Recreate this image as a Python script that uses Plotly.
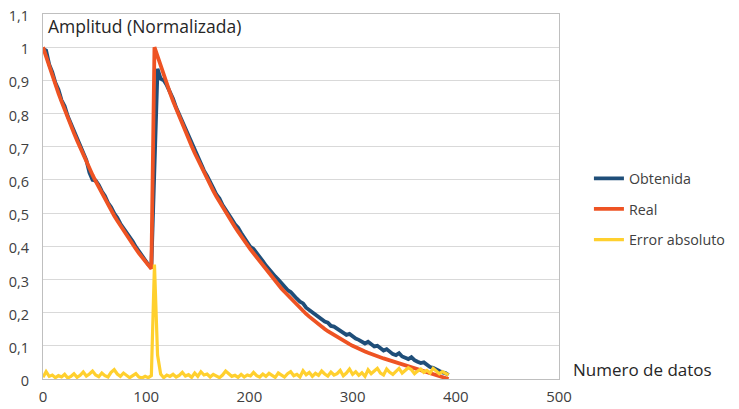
import plotly.graph_objects as go

# x positions (numero de datos)
x_data = [i * 3 for i in range(132)]

real = [1.000, 0.971, 0.942, 0.914, 0.887, 0.861, 0.836, 0.811, 0.787, 0.764,
        0.741, 0.719, 0.697, 0.676, 0.655, 0.635, 0.615, 0.596, 0.578, 0.560,
        0.542, 0.525, 0.508, 0.492, 0.477, 0.462, 0.447, 0.433, 0.419, 0.405,
        0.392, 0.379, 0.367, 0.355, 0.343, 0.332,
        1.000, 0.971, 0.943, 0.916, 0.889, 0.863, 0.838, 0.814, 0.790, 0.767,
        0.745, 0.723, 0.702, 0.681, 0.661, 0.641, 0.622, 0.603, 0.585, 0.567,
        0.550, 0.534, 0.518, 0.502, 0.487, 0.472, 0.458, 0.444, 0.430, 0.417,
        0.404, 0.391, 0.379, 0.367, 0.355, 0.343, 0.330, 0.317, 0.306, 0.295,
        0.284, 0.273, 0.263, 0.253, 0.243, 0.233, 0.223, 0.213, 0.204, 0.196,
        0.188, 0.180, 0.172, 0.165, 0.158, 0.151, 0.144, 0.138, 0.132, 0.126,
        0.120, 0.115, 0.110, 0.105, 0.100, 0.095, 0.091, 0.087, 0.083, 0.079,
        0.075, 0.072, 0.068, 0.065, 0.062, 0.059, 0.056, 0.053, 0.050, 0.047,
        0.044, 0.041, 0.038, 0.035, 0.032, 0.029, 0.026, 0.023, 0.020, 0.017,
        0.014, 0.011, 0.008, 0.005, 0.002, 0.000]

obtenida = [0.995, 0.990, 0.948, 0.925, 0.893, 0.872, 0.840, 0.822, 0.792, 0.771,
            0.748, 0.722, 0.705, 0.680, 0.660, 0.622, 0.600, 0.598, 0.585, 0.566,
            0.552, 0.531, 0.518, 0.499, 0.486, 0.468, 0.455, 0.440, 0.425, 0.414,
            0.398, 0.385, 0.370, 0.361, 0.345, 0.338,
            0.620, 0.935, 0.905, 0.900, 0.885, 0.866, 0.845, 0.818, 0.797, 0.772,
            0.754, 0.728, 0.710, 0.690, 0.665, 0.650, 0.628, 0.612, 0.590, 0.575,
            0.556, 0.544, 0.524, 0.511, 0.496, 0.481, 0.466, 0.456, 0.440, 0.426,
            0.415, 0.398, 0.392, 0.378, 0.366, 0.355, 0.342, 0.330, 0.318, 0.309,
            0.300, 0.288, 0.280, 0.268, 0.262, 0.250, 0.242, 0.233, 0.228, 0.215,
            0.208, 0.203, 0.196, 0.187, 0.182, 0.173, 0.170, 0.160, 0.158, 0.152,
            0.148, 0.140, 0.133, 0.136, 0.128, 0.122, 0.118, 0.113, 0.107, 0.112,
            0.104, 0.098, 0.100, 0.092, 0.086, 0.090, 0.081, 0.075, 0.072, 0.078,
            0.068, 0.063, 0.060, 0.066, 0.057, 0.052, 0.048, 0.050, 0.042, 0.036,
            0.034, 0.028, 0.024, 0.020, 0.018, 0.012]

error_abs = [0.005, 0.022, 0.008, 0.012, 0.004, 0.010, 0.006, 0.014, 0.003, 0.008,
             0.016, 0.005, 0.011, 0.021, 0.009, 0.015, 0.024, 0.012, 0.007, 0.018,
             0.010, 0.006, 0.020, 0.028, 0.015, 0.008, 0.018, 0.012, 0.004, 0.010,
             0.016, 0.006, 0.003, 0.008, 0.004, 0.010,
             0.345, 0.072, 0.015, 0.004, 0.012, 0.008, 0.014, 0.006, 0.011, 0.020,
             0.009, 0.013, 0.005, 0.018, 0.008, 0.022, 0.012, 0.015, 0.006, 0.014,
             0.010, 0.004, 0.012, 0.024, 0.016, 0.008, 0.011, 0.005, 0.014, 0.006,
             0.012, 0.009, 0.020, 0.010, 0.006, 0.015, 0.008, 0.017, 0.011, 0.005,
             0.018, 0.012, 0.006, 0.016, 0.022, 0.010, 0.014, 0.006, 0.025, 0.013,
             0.020, 0.008, 0.017, 0.011, 0.024, 0.015, 0.009, 0.021, 0.012, 0.016,
             0.026, 0.010, 0.018, 0.030, 0.014, 0.022, 0.011, 0.019, 0.008, 0.028,
             0.016, 0.024, 0.032, 0.018, 0.012, 0.030, 0.020, 0.014, 0.022, 0.032,
             0.018, 0.026, 0.034, 0.028, 0.016, 0.024, 0.030, 0.020, 0.026, 0.018,
             0.032, 0.024, 0.016, 0.022, 0.018, 0.012]

y_tickvals = [0, 0.1, 0.2, 0.3, 0.4, 0.5, 0.6, 0.7, 0.8, 0.9, 1.0, 1.1]
y_ticktext = ["0", "0,1", "0,2", "0,3", "0,4", "0,5", "0,6", "0,7", "0,8", "0,9", "1", "1,1"]
x_tickvals = [0, 100, 200, 300, 400, 500]

FONT = "Open Sans"
TXT = "#404040"

fig = go.Figure()
fig.add_trace(go.Scatter(x=x_data, y=obtenida, mode="lines", name="Obtenida",
                         legendgroup="a",
                         line=dict(color="#1F4E79", width=3.8)))
fig.add_trace(go.Scatter(x=x_data, y=real, mode="lines", name="Real",
                         legendgroup="b",
                         line=dict(color="#EE5323", width=3.8)))
fig.add_trace(go.Scatter(x=x_data, y=error_abs, mode="lines", name="Error absoluto",
                         legendgroup="c",
                         line=dict(color="#FFD02E", width=3.2)))

fig.update_layout(
    width=739, height=409,
    margin=dict(l=43, r=180, t=14, b=30, autoexpand=False),
    paper_bgcolor="white", plot_bgcolor="white",
    font=dict(family=FONT, size=15, color=TXT),
    showlegend=True,
    legend=dict(x=1.058, y=0.593, xanchor="left", yanchor="top",
                traceorder="grouped", tracegroupgap=9,
                font=dict(family=FONT, size=14.3, color=TXT),
                bgcolor="rgba(0,0,0,0)"),
    xaxis=dict(range=[0, 500], tickvals=x_tickvals, showgrid=False,
               zeroline=False, showline=True, linecolor="#BFBFBF", linewidth=1,
               mirror=True, ticks="", automargin=False, ticklabelstandoff=4,
               tickfont=dict(size=15, color=TXT)),
    yaxis=dict(range=[0, 1.1], tickvals=y_tickvals, ticktext=y_ticktext,
               showgrid=True, gridcolor="#D9D9D9", gridwidth=1,
               zeroline=False, showline=True, linecolor="#BFBFBF", linewidth=1,
               mirror=True, ticks="", ticklabelstandoff=10, automargin=False,
               ticklabeloverflow="allow", ticklabelshift=2,
               tickfont=dict(size=14.5, color=TXT)),
    annotations=[
        dict(text="Amplitud (Normalizada)", xref="paper", yref="paper",
             x=0.006, y=0.966, xanchor="left", yanchor="middle", showarrow=False,
             font=dict(family=FONT, size=17.5, color="#262626")),
        dict(text="Numero de datos", xref="paper", yref="paper",
             x=1.024, y=0.027, xanchor="left", yanchor="middle", showarrow=False,
             font=dict(family=FONT, size=17, color="#262626")),
    ],
)

# remove the browser's default 8px body margin so the figure fills the window
fig.write_html("out.html",
               config={"displayModeBar": False},
               post_script="document.body.style.margin='0';"
                           "document.documentElement.style.overflow='hidden';")
